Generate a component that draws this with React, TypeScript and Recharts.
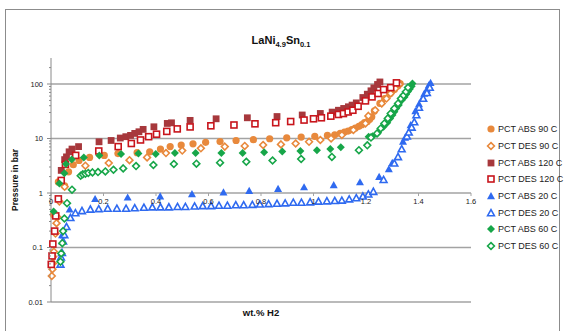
import React from 'react';
import { ScatterChart, Scatter, XAxis, YAxis, ReferenceLine, ReferenceDot } from 'recharts';

// wt.% H2 / pressure (bar)
const abs90X = [0.01, 0.028, 0.052, 0.067, 0.085, 0.107, 0.147, 0.203, 0.255, 0.328, 0.376, 0.417, 0.454, 0.496, 0.541, 0.589, 0.644, 0.705, 0.771, 0.833, 0.898, 0.953, 1.005, 1.053, 1.081, 1.102, 1.118, 1.132, 1.146, 1.159, 1.173, 1.184, 1.194, 1.205, 1.214, 1.222, 1.232, 1.253, 1.271, 1.292, 1.308, 1.322, 1.33];
const abs90Y = [0.4, 1.6, 1.35, 2.45, 3.3, 3.95, 4.5, 4.9, 5.3, 5.5, 5.7, 6.4, 7.1, 7.6, 8.0, 8.5, 8.8, 9.2, 9.5, 9.9, 10.3, 10.6, 10.9, 11.4, 11.7, 12.4, 13.1, 13.7, 14.5, 15.5, 16.7, 17.9, 19.5, 20.5, 22.5, 25, 32, 44, 54, 67, 79, 93, 102];

const des90X = [0.003, 0.0055, 0.007, 0.008, 0.011, 0.017, 0.021, 0.025, 0.032, 0.052, 0.131, 0.22, 0.299, 0.366, 0.438, 0.5, 0.571, 0.662, 0.738, 0.808, 0.876, 0.932, 0.983, 1.026, 1.067, 1.108, 1.152, 1.198, 1.209, 1.235, 1.26, 1.278, 1.294, 1.312, 1.327];
const des90Y = [0.03, 0.04, 0.051, 0.068, 0.084, 0.18, 0.28, 0.36, 0.7, 1.3, 3.17, 3.55, 4.0, 4.5, 5.4, 6.0, 6.6, 7.1, 7.3, 7.6, 7.8, 8.1, 8.7, 9.4, 10.0, 11.6, 14.3, 18.9, 26, 33, 44, 54, 67, 83, 99];

const abs120X = [0.039, 0.052, 0.059, 0.069, 0.08, 0.105, 0.183, 0.229, 0.264, 0.285, 0.303, 0.319, 0.335, 0.351, 0.392, 0.443, 0.459, 0.53, 0.629, 0.748, 0.861, 0.957, 1.026, 1.071, 1.095, 1.115, 1.133, 1.147, 1.163, 1.188, 1.205, 1.219, 1.23, 1.244, 1.253];
const abs120Y = [2.6, 4.1, 4.6, 5.7, 6.4, 7.1, 8.7, 9.2, 10.2, 10.8, 11.4, 12.4, 13.3, 14.7, 16.4, 18.9, 19.4, 21.5, 23, 24, 25.3, 27, 28.8, 30.5, 33, 35.6, 38.2, 41, 45, 56.5, 65, 75, 85, 98, 109];

const des120X = [0.001, 0.004, 0.007, 0.014, 0.018, 0.028, 0.039, 0.055, 0.094, 0.182, 0.256, 0.306, 0.341, 0.372, 0.402, 0.441, 0.481, 0.53, 0.609, 0.697, 0.777, 0.856, 0.913, 0.964, 1.0, 1.03, 1.066, 1.095, 1.114, 1.132, 1.15, 1.17, 1.198, 1.223, 1.246, 1.267, 1.294, 1.316];
const des120Y = [0.049, 0.07, 0.116, 0.2, 0.38, 0.78, 1.7, 3.35, 4.9, 5.9, 7.1, 8.1, 9.4, 10.8, 12.0, 13.5, 15, 16.3, 17.1, 17.7, 18.6, 19.5, 20.5, 21.8, 23, 24, 25.7, 27.6, 28.7, 30.7, 33, 39, 49, 58, 67, 79, 86, 105];

const abs20X = [0.042, 0.071, 0.168, 0.292, 0.416, 0.537, 0.657, 0.755, 0.865, 0.964, 1.077, 1.177, 1.25, 1.287, 1.3, 1.341, 1.349, 1.37, 1.388, 1.402, 1.415, 1.422, 1.432, 1.439, 1.446];
const abs20Y = [0.17, 0.5, 0.78, 0.83, 0.87, 0.96, 1.03, 1.1, 1.2, 1.28, 1.4, 1.58, 1.99, 2.75, 3.6, 8.8, 10.4, 17.6, 32, 43, 55, 67, 79, 95, 105];

const des20X = [0.036, 0.038, 0.042, 0.046, 0.051, 0.059, 0.074, 0.093, 0.118, 0.15, 0.182, 0.216, 0.251, 0.286, 0.319, 0.354, 0.386, 0.417, 0.449, 0.482, 0.512, 0.547, 0.578, 0.61, 0.64, 0.672, 0.704, 0.734, 0.767, 0.796, 0.829, 0.861, 0.892, 0.923, 0.954, 0.987, 1.019, 1.051, 1.081, 1.108, 1.136, 1.163, 1.188, 1.209, 1.228, 1.267, 1.308, 1.322, 1.336, 1.356, 1.363, 1.374, 1.384, 1.392, 1.402, 1.418, 1.432, 1.443];
const des20Y = [0.049, 0.066, 0.08, 0.13, 0.17, 0.24, 0.35, 0.43, 0.47, 0.5, 0.51, 0.52, 0.52, 0.52, 0.53, 0.54, 0.55, 0.55, 0.55, 0.56, 0.56, 0.57, 0.58, 0.58, 0.59, 0.59, 0.6, 0.6, 0.61, 0.62, 0.63, 0.64, 0.65, 0.67, 0.67, 0.68, 0.7, 0.71, 0.72, 0.73, 0.77, 0.81, 0.87, 0.95, 1.06, 1.75, 3.5, 4.6, 6.4, 11, 13, 16, 20, 27, 37, 54, 69, 86];

const abs60X = [0.01, 0.032, 0.051, 0.057, 0.079, 0.125, 0.184, 0.267, 0.333, 0.399, 0.472, 0.551, 0.649, 0.73, 0.812, 0.881, 0.95, 1.013, 1.064, 1.104, 1.21, 1.225, 1.246, 1.267, 1.281, 1.292, 1.301, 1.308, 1.315, 1.325, 1.336, 1.347, 1.353, 1.36, 1.367, 1.374, 1.377];
const abs60Y = [0.46, 1.5, 2.3, 3.4, 4.1, 4.5, 4.9, 5.2, 5.3, 5.2, 5.4, 5.4, 5.4, 5.4, 5.6, 5.8, 5.9, 6.1, 6.4, 6.9, 10.8, 11.0, 12.9, 16.4, 19.5, 23.4, 27, 31, 35.6, 41, 50.6, 58, 65, 73, 81, 91, 102];

const des60X = [0.036, 0.039, 0.043, 0.046, 0.051, 0.061, 0.08, 0.113, 0.121, 0.131, 0.142, 0.158, 0.179, 0.207, 0.238, 0.275, 0.324, 0.39, 0.468, 0.554, 0.644, 0.744, 0.844, 0.953, 1.07, 1.173, 1.205, 1.219, 1.242, 1.256, 1.27, 1.283, 1.294, 1.308, 1.322, 1.333, 1.343, 1.352, 1.36];
const des60Y = [0.055, 0.078, 0.12, 0.2, 0.34, 0.65, 1.15, 2.08, 2.2, 2.26, 2.33, 2.39, 2.42, 2.49, 2.67, 2.83, 3.12, 3.26, 3.4, 3.45, 3.6, 3.75, 3.95, 4.2, 4.6, 6.1, 7.5, 10.4, 12.4, 15.3, 18.9, 23.4, 28.8, 35.6, 44, 54, 62, 72, 86];

const xTicks = [0, 0.2, 0.4, 0.6, 0.8, 1, 1.2, 1.4, 1.6];
const yMajor = [0.01, 0.1, 1, 10, 100];
const yMinor = [0.02, 0.03, 0.04, 0.05, 0.06, 0.07, 0.08, 0.09, 0.2, 0.3, 0.4, 0.5, 0.6, 0.7, 0.8, 0.9, 2, 3, 4, 5, 6, 7, 8, 9, 20, 30, 40, 50, 60, 70, 80, 90, 200];

type Kind = 'circle' | 'diamond' | 'square' | 'triangle';

const zip = (xs: number[], ys: number[]) => xs.map((x, i) => ({ x, y: ys[i] }));

const series = [
  { name: 'PCT ABS 90 C', color: '#E8893C', kind: 'circle' as Kind, hollow: false, data: zip(abs90X, abs90Y) },
  { name: 'PCT DES 90 C', color: '#E8893C', kind: 'diamond' as Kind, hollow: true, data: zip(des90X, des90Y) },
  { name: 'PCT ABS 120 C', color: '#A7383C', kind: 'square' as Kind, hollow: false, data: zip(abs120X, abs120Y) },
  { name: 'PCT DES 120 C', color: '#C8151C', kind: 'square' as Kind, hollow: true, data: zip(des120X, des120Y) },
  { name: 'PCT ABS 20 C', color: '#2F6AF0', kind: 'triangle' as Kind, hollow: false, data: zip(abs20X, abs20Y) },
  { name: 'PCT DES 20 C', color: '#2F6AF0', kind: 'triangle' as Kind, hollow: true, data: zip(des20X, des20Y) },
  { name: 'PCT ABS 60 C', color: '#17A649', kind: 'diamond' as Kind, hollow: false, data: zip(abs60X, abs60Y) },
  { name: 'PCT DES 60 C', color: '#17A649', kind: 'diamond' as Kind, hollow: true, data: zip(des60X, des60Y) },
];

const FONT = '"Liberation Sans", Arial, sans-serif';
const GRID = '#a3a3a3';

function Marker({ cx, cy, kind, color, hollow }: { cx: number; cy: number; kind: Kind; color: string; hollow: boolean }) {
  if (cx == null || cy == null || isNaN(cx) || isNaN(cy)) return null;
  const fill = hollow ? '#ffffff' : color;
  const sw = hollow ? 1.6 : 0;
  if (kind === 'circle') return <circle cx={cx} cy={cy} r={3.6} fill={fill} stroke={color} strokeWidth={sw} />;
  if (kind === 'square') {
    const s = hollow ? 3.0 : 3.4;
    return <rect x={cx - s} y={cy - s} width={s * 2} height={s * 2} fill={fill} stroke={color} strokeWidth={sw} />;
  }
  if (kind === 'diamond') {
    const d = hollow ? 3.4 : 4.0;
    return <polygon points={`${cx},${cy - d} ${cx + d},${cy} ${cx},${cy + d} ${cx - d},${cy}`} fill={fill} stroke={color} strokeWidth={sw} />;
  }
  const t = hollow ? 3.4 : 4.0;
  return <polygon points={`${cx},${cy - t} ${cx + t},${cy + t * 0.8} ${cx - t},${cy + t * 0.8}`} fill={fill} stroke={color} strokeWidth={sw} strokeLinejoin="miter" />;
}

function YTick(props: any) {
  const { x, y, payload } = props;
  const axisX = x + 8;
  const major = yMajor.includes(payload.value);
  return (
    <g>
      <line x1={axisX - (major ? 4 : 2)} x2={axisX} y1={y} y2={y} stroke="#8a8a8a" strokeWidth={1} />
      {major && (
        <text x={x} y={y} dy={2.7} textAnchor="end" fontSize={7.5} fontFamily={FONT} fill="#222">
          {payload.value}
        </text>
      )}
    </g>
  );
}

export default function App() {
  return (
    <div style={{ position: 'absolute', left: 0, top: 0, width: 567, height: 331, background: '#fff', overflow: 'hidden', fontFamily: FONT }}>
      <div style={{ position: 'absolute', left: 5, top: 9, width: 555, height: 340, border: '1.5px solid #8c8c8c', boxSizing: 'border-box' }} />

      <div style={{ position: 'absolute', left: 0, width: 562, top: 34, textAlign: 'center', fontSize: 11, fontWeight: 'bold', color: '#111' }}>
        <span>
          LaNi<sub style={{ fontSize: 7.5, verticalAlign: -3 }}>4.9</sub>Sn<sub style={{ fontSize: 7.5, verticalAlign: -3 }}>0.1</sub>
        </span>
      </div>

      <div style={{ position: 'absolute', left: 0, top: 0 }}>
        <ScatterChart width={567} height={331} margin={{ top: 58, right: 96, bottom: 29, left: 0 }}>
          <XAxis type="number" dataKey="x" domain={[0, 1.6]} hide />
          <YAxis
            type="number"
            dataKey="y"
            scale="log"
            domain={[0.01, 300]}
            allowDataOverflow
            ticks={[...yMajor, ...yMinor]}
            interval={0}
            width={51}
            tickSize={4}
            tickMargin={4}
            tickLine={false}
            axisLine={{ stroke: '#8a8a8a', strokeWidth: 1 }}
            tick={<YTick />}
          />
          {[100, 10, 0.1, 0.01].map((v) => (
            <ReferenceLine key={v} y={v} stroke={GRID} strokeWidth={1.4} />
          ))}
          <ReferenceLine y={1} stroke={GRID} strokeWidth={1.4} />
          {xTicks.map((v) => (
            <ReferenceLine key={'t' + v} segment={[{ x: v, y: 1 }, { x: v, y: 0.88 }]} stroke={GRID} strokeWidth={1} />
          ))}
          {xTicks.map((v) => (
            <ReferenceDot
              key={'l' + v}
              x={v}
              y={1}
              r={0}
              fill="none"
              stroke="none"
              label={{ value: String(v), position: 'bottom', offset: 6, fontSize: 7.5, fontFamily: FONT, fill: '#222' }}
            />
          ))}
          {series.map((s) => (
            <Scatter
              key={s.name}
              name={s.name}
              data={s.data}
              isAnimationActive={false}
              shape={(p: any) => <Marker cx={p.cx} cy={p.cy} kind={s.kind} color={s.color} hollow={s.hollow} />}
            />
          ))}
        </ScatterChart>
      </div>

      <div
        style={{
          position: 'absolute',
          left: 15,
          top: 180,
          transform: 'translate(-50%, -50%) rotate(-90deg)',
          fontSize: 8.5,
          fontWeight: 'bold',
          whiteSpace: 'nowrap',
          color: '#111',
        }}
      >
        Pressure in bar
      </div>
      <div style={{ position: 'absolute', left: 261, top: 312, transform: 'translate(-50%, -50%)', fontSize: 9.5, fontWeight: 'bold', whiteSpace: 'nowrap', color: '#111' }}>
        wt.% H2
      </div>

      <div style={{ position: 'absolute', left: 486, top: 121 }}>
        {series.map((s) => (
          <div key={s.name} style={{ display: 'flex', alignItems: 'center', height: 16.7, fontSize: 9, color: '#222', whiteSpace: 'nowrap' }}>
            <svg width={10} height={10} style={{ marginRight: 2 }}>
              <Marker cx={5} cy={5} kind={s.kind} color={s.color} hollow={s.hollow} />
            </svg>
            {s.name}
          </div>
        ))}
      </div>
    </div>
  );
}
